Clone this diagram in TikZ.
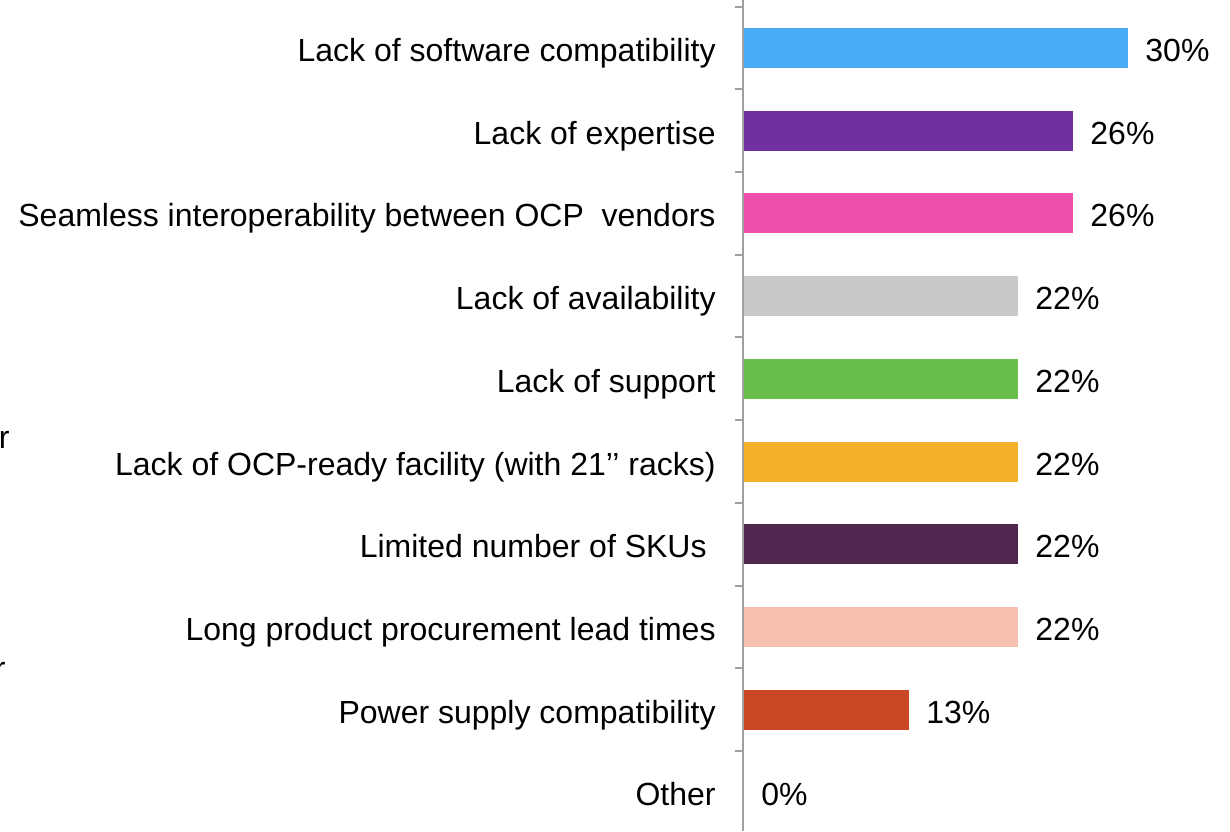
\documentclass[tikz,border=0pt]{standalone}
\usepackage{fontspec}
\setmainfont{Liberation Sans}
\definecolor{barblue}{HTML}{48ACF6}
\definecolor{barpurple}{HTML}{7030A0}
\definecolor{barpink}{HTML}{EC4FAB}
\definecolor{bargrey}{HTML}{C9C9C9}
\definecolor{bargreen}{HTML}{6ABF4C}
\definecolor{bargold}{HTML}{F3B22A}
\definecolor{barplum}{HTML}{4F264D}
\definecolor{barsalmon}{HTML}{F6BFAF}
\definecolor{barrust}{HTML}{C94722}
\definecolor{axisgray}{HTML}{A0A0A0}

\begin{document}
\begin{tikzpicture}[x=0.5pt,y=-0.5pt,
    cat/.style={anchor=base east,inner sep=0pt,font=\fontsize{16}{19}\selectfont},
    val/.style={anchor=base west,inner sep=0pt,font=\fontsize{16}{19}\selectfont},
    axisline/.style={draw=axisgray,line width=1pt}]
    \useasboundingbox (0,0) rectangle (1230,831);
    \foreach \lab/\pct/\len/\col [count=\i from 0] in {
        Lack of software compatibility/30\%/384/barblue,
        Lack of expertise/26\%/329/barpurple,
        Seamless interoperability between OCP\ \ vendors/26\%/329/barpink,
        Lack of availability/22\%/274/bargrey,
        Lack of support/22\%/274/bargreen,
        Lack of OCP-ready facility (with 21’’ racks)/22\%/274/bargold,
        Limited number of SKUs\kern0.28em/22\%/274/barplum,
        Long product procurement lead times/22\%/274/barsalmon,
        Power supply compatibility/13\%/165/barrust,
        Other/0\%/0/white}{
        \pgfmathsetmacro{\yc}{48+82.7*\i}
        \fill[\col] (744,\yc-20) rectangle (744+\len,\yc+20);
        \node[cat] (cat\i) at (716,\yc+13.5) {\lab};
        \node[val] (val\i) at (761+\len,\yc+13.5) {\pct};
    }
    \draw[axisline] (743,0) -- (743,831);
    \foreach \k in {0,...,10}
        \draw[axisline] (735,6.65+82.7*\k) -- (743,6.65+82.7*\k);
    \node[cat] (cutA) at (10,448) {r};
    \node[cat] (cutB) at (6,679) {r};
\end{tikzpicture}
\end{document}
